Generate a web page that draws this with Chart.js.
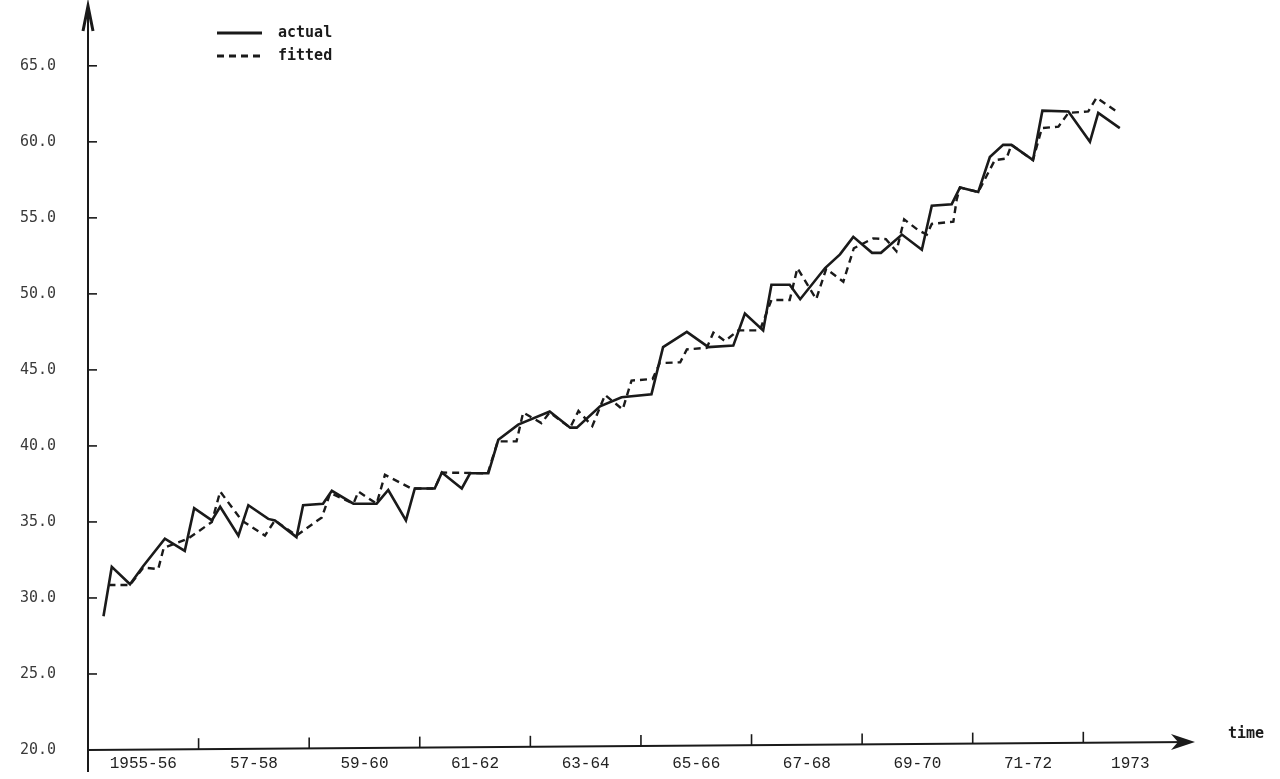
<!DOCTYPE html>
<html><head><meta charset="utf-8">
<script src="https://cdn.jsdelivr.net/npm/chart.js@4.4.1/dist/chart.umd.min.js"></script>
<style>html,body{margin:0;padding:0;background:#fff;} canvas{display:block;}</style>
</head><body>
<canvas id="c" width="1280" height="779"></canvas>
<script>
// ---- data ----
const actualTime = [1955.78,1955.93,1956.26,1956.50,1956.89,1957.25,1957.42,1957.74,1957.89,1958.22,1958.40,1958.76,1958.88,1959.27,1959.39,1959.75,1959.91,1960.30,1960.72,1960.93,1961.25,1961.41,1961.77,1961.90,1962.26,1962.41,1962.74,1962.92,1963.28,1963.85,1964.22,1964.34,1964.76,1965.15,1965.69,1965.90,1966.33,1966.72,1967.17,1967.38,1967.71,1967.86,1968.19,1968.38,1968.83,1969.10,1969.34,1969.68,1969.84,1970.22,1970.58,1970.76,1971.12,1971.27,1971.60,1971.81,1972.05,1972.20,1972.59,1972.76,1973.23,1973.62,1973.77,1974.16];
const actualValue = [28.8,32.05,30.9,32.1,33.9,33.1,35.9,35.1,36.0,34.1,36.1,35.2,35.1,34.0,36.1,36.2,37.05,36.2,36.2,37.1,35.1,37.2,37.2,38.25,37.2,38.2,38.2,40.4,41.4,42.26,41.2,41.2,42.6,43.2,43.4,46.5,47.5,46.5,46.6,48.7,47.6,50.6,50.6,49.65,51.7,52.6,53.75,52.7,52.7,53.9,52.9,55.8,55.9,57.0,56.7,59.0,59.8,59.8,58.8,62.05,62.0,60.0,61.9,60.9];
const fittedTime = [1955.87,1956.26,1956.50,1956.77,1956.87,1957.31,1957.74,1957.89,1958.28,1958.70,1958.88,1959.27,1959.73,1959.88,1960.30,1960.39,1960.72,1960.87,1961.35,1961.77,1961.90,1962.73,1962.91,1963.25,1963.37,1963.70,1963.85,1964.22,1964.37,1964.62,1964.85,1965.17,1965.33,1965.71,1965.84,1966.21,1966.33,1966.69,1966.81,1967.02,1967.26,1967.65,1967.86,1968.19,1968.33,1968.67,1968.85,1969.16,1969.35,1969.70,1969.93,1970.12,1970.26,1970.51,1970.67,1970.76,1971.15,1971.21,1971.27,1971.60,1971.90,1972.11,1972.20,1972.59,1972.75,1973.05,1973.23,1973.59,1973.74,1974.10];
const fittedValue = [30.85,30.85,32.0,31.9,33.3,33.9,35.0,37.0,35.1,34.1,35.1,34.1,35.3,36.9,36.2,37.0,36.2,38.1,37.2,37.2,38.25,38.2,40.3,40.3,42.2,41.5,42.2,41.2,42.3,41.3,43.35,42.4,44.3,44.4,45.45,45.5,46.35,46.45,47.45,46.9,47.6,47.6,49.6,49.6,51.7,49.65,51.65,50.8,53.0,53.65,53.6,52.8,54.9,54.2,53.9,54.6,54.75,56.2,57.0,56.7,58.8,58.9,59.8,58.8,60.9,61.0,61.9,62.0,62.9,62.0];
const xLabelPos = [1956.5,1958.5,1960.5,1962.5,1964.5,1966.5,1968.5,1970.5,1972.5,1974.35];
const xLabels = ['1955-56','57-58','59-60','61-62','63-64','65-66','67-68','69-70','71-72','1973'];
const xTickMarks = [1957.5,1959.5,1961.5,1963.5,1965.5,1967.5,1969.5,1971.5,1973.5];
const yTicks = [20,25,30,35,40,45,50,55,60,65];
const seriesNames = ['actual','fitted'];
const axisTitle = 'time';

const INK = '#1a1a1a';
const actualPts = actualTime.map((t,i)=>({x:t,y:actualValue[i]}));
const fittedPts = fittedTime.map((t,i)=>({x:t,y:fittedValue[i]}));

const decor = {
  id:'decor',
  afterDraw(chart){
    const ctx = chart.ctx, xs = chart.scales.x, ys = chart.scales.y, a = chart.chartArea;
    const x0 = a.left, y0 = a.bottom;
    ctx.save();
    ctx.strokeStyle = INK; ctx.fillStyle = INK; ctx.lineWidth = 2; ctx.lineCap='butt';
    // y axis line
    ctx.beginPath(); ctx.moveTo(x0, 772); ctx.lineTo(x0, a.top + 4); ctx.stroke();
    // y arrow
    ctx.lineWidth = 3;
    ctx.beginPath(); ctx.moveTo(x0 - 5, a.top + 26); ctx.lineTo(x0, a.top + 1); ctx.lineTo(x0 + 5, a.top + 26); ctx.stroke();
    // x axis line
    ctx.lineWidth = 2;
    ctx.beginPath(); ctx.moveTo(x0, y0); ctx.lineTo(a.right - 4, y0 - 8); ctx.stroke();
    // x arrow
    ctx.beginPath(); ctx.moveTo(a.right, y0 - 8); ctx.lineTo(a.right - 24, y0 - 16); ctx.lineTo(a.right - 17, y0 - 8); ctx.lineTo(a.right - 24, y0 + 0); ctx.closePath(); ctx.fill();
    // x tick marks (upwards)
    ctx.lineWidth = 1.6;
    xTickMarks.forEach(v => {
      const px = xs.getPixelForValue(v);
      const py = y0 - 8 * (px - x0) / (a.right - x0);
      ctx.beginPath(); ctx.moveTo(px, py); ctx.lineTo(px, py - 11); ctx.stroke();
    });
    // y tick marks (rightwards)
    yTicks.forEach(v => {
      if (v === ys.min) return;
      const py = ys.getPixelForValue(v);
      ctx.beginPath(); ctx.moveTo(x0, py); ctx.lineTo(x0 + 9, py); ctx.stroke();
    });
    // axis title
    ctx.font = 'bold 15px "DejaVu Sans Mono"';
    ctx.textBaseline = 'middle'; ctx.textAlign = 'left';
    ctx.fillText(axisTitle, a.right + 33, y0 - 16);
    // legend
    const lx = 217, lw = 45;
    ctx.lineWidth = 3;
    ctx.beginPath(); ctx.moveTo(lx, 33); ctx.lineTo(lx + lw, 33); ctx.stroke();
    ctx.setLineDash([7,5]);
    ctx.beginPath(); ctx.moveTo(lx, 56); ctx.lineTo(lx + lw, 56); ctx.stroke();
    ctx.setLineDash([]);
    ctx.font = 'bold 15px "DejaVu Sans Mono"';
    ctx.fillText(seriesNames[0], 278, 33);
    ctx.fillText(seriesNames[1], 278, 56);
    ctx.restore();
  }
};

new Chart(document.getElementById('c'), {
  type: 'line',
  data: {
    datasets: [
      {label: seriesNames[0], data: actualPts, borderColor: INK, borderWidth: 2.6, pointRadius: 0, tension: 0, fill: false, borderJoinStyle: 'miter'},
      {label: seriesNames[1], data: fittedPts, borderColor: INK, borderWidth: 2.4, borderDash: [7,5], pointRadius: 0, tension: 0, fill: false, borderJoinStyle: 'miter'}
    ]
  },
  options: {
    responsive: false, animation: false, devicePixelRatio: 1,
    layout: {padding: {left: 0, right: 85, top: 5, bottom: 0}},
    plugins: {legend: {display: false}, tooltip: {enabled: false}},
    scales: {
      x: {
        type: 'linear', min: 1955.5, max: 1975.52,
        grid: {display: false, drawTicks: false}, border: {display: false},
        afterBuildTicks: s => { s.ticks = xLabelPos.map(v => ({value: v})); },
        afterFit: s => { s.height = 29; s.paddingLeft = 0; s.paddingRight = 0; },
        ticks: {
          autoSkip: false, maxRotation: 0, padding: 4, color: '#222',
          font: {family: '"Liberation Mono"', size: 16},
          callback: (v) => { const i = xLabelPos.indexOf(v); return i >= 0 ? xLabels[i] : ''; }
        }
      },
      y: {
        type: 'linear', min: 20, max: 69,
        grid: {display: false, drawTicks: false}, border: {display: false},
        afterBuildTicks: s => { s.ticks = yTicks.map(v => ({value: v})); },
        afterFit: s => { s.width = 88; s.paddingTop = 0; s.paddingBottom = 0; },
        ticks: {
          padding: 32, color: '#3a3a3a',
          font: {family: '"DejaVu Sans Mono"', size: 15},
          callback: v => Number(v).toFixed(1)
        }
      }
    }
  },
  plugins: [decor]
});
</script>
</body></html>
